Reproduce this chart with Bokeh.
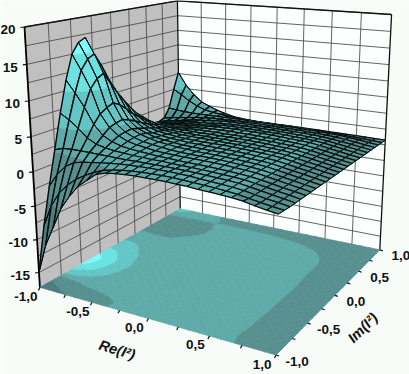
import numpy as np
from bokeh.plotting import figure
from bokeh.models import ColumnDataSource, Range1d
from bokeh.embed import file_html
from bokeh.resources import INLINE
from bokeh.core.properties import value

# ---------- data ----------
re_values = [-1.0,-0.917,-0.833,-0.75,-0.667,-0.583,-0.5,-0.417,-0.333,-0.25,-0.167,-0.083,0.0,
             0.083,0.167,0.25,0.333,0.417,0.5,0.583,0.667,0.75,0.833,0.917,1.0]
im_values = re_values[:]

z_row_00 = [-15,-10.5,-7.5,-4.5,-2.5,-.8,.3,1.4,1.8,2.0,2.1,2.2,2.2,2.2,2.2,2.15,2.1,2.0,1.95,1.85,1.75,1.6,1.3,1.05,.85]
z_row_01 = [-8.5,-5.2,-3,-1.6,-.5,.3,1,1.5,1.8,2,2.15,2.25,2.3,2.3,2.28,2.22,2.15,2.05,1.98,1.85,1.7,1.45,1.2,1,.8]
z_row_02 = [-3,-1,.4,1.2,1.5,1.7,1.9,2.05,2.2,2.3,2.35,2.4,2.4,2.4,2.36,2.3,2.2,2.1,2.0,1.88,1.7,1.45,1.2,1,.75]
z_row_03 = [2.0,2.4,2.5,2.5,2.5,2.45,2.45,2.4,2.4,2.4,2.4,2.4,2.4,2.38,2.35,2.3,2.23,2.14,2.06,1.95,1.73,1.48,1.23,1.0,.75]
z_row_04 = [7,6.2,5.2,4,3.3,3,2.8,2.7,2.6,2.55,2.5,2.5,2.4,2.38,2.35,2.3,2.23,2.14,2.06,1.95,1.73,1.48,1.23,1.0,.75]
z_row_05 = [11.5,9.8,7.9,5.6,4.2,3.5,3.1,2.9,2.75,2.65,2.55,2.5,2.4,2.38,2.35,2.3,2.23,2.14,2.06,1.95,1.73,1.48,1.23,1.0,.75]
z_row_06 = [15,12.8,10.3,6.8,5,4,3.4,3.1,2.9,2.7,2.6,2.55,2.5,2.48,2.45,2.4,2.32,2.22,2.12,2.0,1.75,1.5,1.25,1.0,.75]
z_row_07 = [16.5,14.2,11.5,7.4,5.3,4.2,3.6,3.2,3,2.8,2.65,2.55,2.5,2.48,2.45,2.4,2.32,2.22,2.12,2.0,1.75,1.5,1.25,1.0,.75]
z_row_08 = [17,14.7,12,7.8,5.5,4.3,3.7,3.3,3,2.85,2.7,2.6,2.5,2.48,2.45,2.4,2.32,2.22,2.12,2.0,1.75,1.5,1.25,1.0,.75]
z_row_09 = [14.5,12.8,10.2,7.2,5.1,4.0,3.5,3.1,2.9,2.75,2.6,2.55,2.5,2.48,2.45,2.4,2.32,2.22,2.12,2.0,1.75,1.5,1.25,1.0,.75]
z_row_10 = [11.5,10.6,8.6,6.3,4.6,3.7,3.2,3,2.8,2.7,2.6,2.55,2.5,2.48,2.45,2.4,2.32,2.22,2.12,2.0,1.75,1.5,1.25,1.0,.75]
z_row_11 = [9,8.6,7.1,5.2,4,3.4,3.05,2.85,2.7,2.6,2.55,2.5,2.5,2.48,2.45,2.4,2.32,2.22,2.12,2.0,1.75,1.5,1.25,1.0,.75]
z_row_12 = [7,6.8,5.7,4.4,3.5,3.05,2.85,2.7,2.6,2.55,2.5,2.5,2.45,2.43,2.4,2.35,2.28,2.18,2.09,1.98,1.74,1.49,1.24,1.0,.75]
z_row_13 = [5.2,5.1,4.5,3.6,3.05,2.75,2.6,2.5,2.45,2.45,2.4,2.4,2.4,2.38,2.35,2.3,2.23,2.14,2.06,1.95,1.73,1.48,1.23,1.0,.75]
z_row_14 = [4,3.9,3.6,3.0,2.7,2.5,2.4,2.4,2.35,2.35,2.35,2.35,2.35,2.33,2.3,2.25,2.19,2.1,2.03,1.92,1.71,1.47,1.22,.99,.75]
z_row_15 = [2.9,2.7,2.45,2.2,2.15,2.15,2.2,2.25,2.3,2.3,2.3,2.3,2.3,2.28,2.25,2.2,2.15,2.07,2.0,1.9,1.7,1.46,1.22,.98,.75]
z_row_16 = [1.8,1.7,1.65,1.65,1.7,1.75,1.95,2.1,2.2,2.3,2.3,2.3,2.3,2.28,2.25,2.2,2.15,2.07,2.0,1.9,1.7,1.46,1.22,.98,.75]
z_row_17 = [1.1,1.25,1.4,1.5,1.6,1.7,1.8,2.0,2.15,2.25,2.25,2.3,2.3,2.28,2.25,2.2,2.15,2.07,2.0,1.9,1.7,1.46,1.22,.98,.75]
z_row_18 = [.7,.9,1.2,1.3,1.45,1.6,1.7,1.8,2.0,2.15,2.2,2.2,2.2,2.18,2.15,2.12,2.07,2.0,1.93,1.84,1.67,1.45,1.2,.97,.75]
z_row_19 = [.4,.7,.95,1.15,1.4,1.55,1.65,1.75,1.95,2.05,2.1,2.1,2.1,2.08,2.05,2.02,1.98,1.92,1.85,1.76,1.62,1.42,1.18,.96,.75]
z_row_20 = [.3,.6,.85,1.1,1.35,1.55,1.65,1.8,1.95,2,2,2,2,1.98,1.95,1.92,1.88,1.83,1.77,1.68,1.56,1.38,1.16,.95,.75]
z_row_21 = [.6,.85,1.05,1.25,1.45,1.6,1.7,1.75,1.8,1.85,1.85,1.85,1.85,1.83,1.8,1.78,1.75,1.7,1.65,1.58,1.48,1.33,1.14,.94,.75]
z_row_22 = [2.0,1.85,1.75,1.7,1.7,1.7,1.7,1.72,1.72,1.72,1.7,1.7,1.7,1.68,1.66,1.64,1.62,1.58,1.53,1.47,1.39,1.27,1.1,.92,.75]
z_row_23 = [5.0,4.2,3.3,2.6,2.1,1.85,1.7,1.55,1.4,1.35,1.3,1.3,1.3,1.28,1.27,1.25,1.23,1.2,1.17,1.13,1.08,1.02,.95,.85,.75]
z_row_24 = [7.7,5.6,4.1,3.0,2.4,1.9,1.5,1.2,1.05,.95,.9,.9,.9,.9,.9,.9,.88,.88,.87,.86,.85,.83,.8,.78,.75]
surface_z = [z_row_00,z_row_01,z_row_02,z_row_03,z_row_04,z_row_05,z_row_06,z_row_07,z_row_08,z_row_09,
             z_row_10,z_row_11,z_row_12,z_row_13,z_row_14,z_row_15,z_row_16,z_row_17,z_row_18,z_row_19,
             z_row_20,z_row_21,z_row_22,z_row_23,z_row_24]

z_tick_values = [20,15,10,5,0,-5,-10,-15]
z_tick_labels = ["20","15","10","5","0","-5","-10","-15"]
xy_tick_values = [-1.0,-0.5,0.0,0.5,1.0]
xy_tick_labels = ["-1,0","-0,5","0,0","0,5","1,0"]
z_grid_values = [20,17.5,15,12.5,10,7.5,5,2.5,0,-2.5,-5,-7.5,-10,-12.5,-15]
wall_grid_values = [-1.0,-0.75,-0.5,-0.25,0.0,0.25,0.5,0.75,1.0]
z_floor = -17.3
z_top = 20

band_edges = [-1000,-5,1.7,5,10,15,1000]
band_colors = ["#4e7c7c","#578f8f","#5eaaa9","#63c5c5","#6ce2e2","#7cfcfc"]

BG = "#f7fcf9"; LEFT_WALL = "#c0c0c0"; RIGHT_WALL = "#fbfffd"; MESH = "#040a0a"

# ---------- camera: perspective fitted to the box corners ----------
camera_world = [(-1,-1,z_floor),(1,-1,z_floor),(1,1,z_floor),(-1,1,z_floor),(-1,-1,z_top),(-1,1,z_top),(1,1,z_top)]
camera_image = [(39,286),(276,355),(379,249),(180,209),(24,27),(177,0),(391,14)]
rows = []
for (a,b,c),(u,v) in zip(camera_world,camera_image):
    rows.append([a,b,c,1,0,0,0,0,-u*a,-u*b,-u*c,-u])
    rows.append([0,0,0,0,a,b,c,1,-v*a,-v*b,-v*c,-v])
P = np.linalg.svd(np.array(rows,float))[2][-1].reshape(3,4)

def proj(r,m,z):
    q = P @ np.array([r,m,z,1.0])
    return float(q[0]/q[2]), float(q[1]/q[2])

def clip_half(poly, level, keep_above):
    out = []
    n = len(poly)
    for k in range(n):
        a, b = poly[k], poly[(k+1)%n]
        ina = (a[2]>=level) if keep_above else (a[2]<=level)
        inb = (b[2]>=level) if keep_above else (b[2]<=level)
        if ina: out.append(a)
        if ina != inb:
            s = (level-a[2])/(b[2]-a[2])
            out.append((a[0]+s*(b[0]-a[0]),a[1]+s*(b[1]-a[1]),level))
    return out

def band_pieces(tri):
    for c,lo,hi in zip(band_colors,band_edges[:-1],band_edges[1:]):
        pl = clip_half(tri,lo,True)
        if len(pl)>=3: pl = clip_half(pl,hi,False)
        if len(pl)>=3: yield c,pl

Z = np.array(surface_z,float)
R, M = re_values, im_values

p = figure(width=409,height=374,x_range=Range1d(0,409),y_range=Range1d(374,0),
           output_backend="svg",toolbar_location=None,min_border=0,
           background_fill_color=BG,border_fill_color=BG,outline_line_color=None)
p.axis.visible=False; p.grid.visible=False
p.styles={"position":"absolute","left":"0","top":"0"}

# walls
def wall(c,pts):
    xy=[proj(*q) for q in pts]
    p.patch([a for a,_ in xy],[b for _,b in xy],fill_color=c,line_color=c)
wall(LEFT_WALL,[(-1,-1,z_floor),(-1,1,z_floor),(-1,1,z_top),(-1,-1,z_top)])
wall(RIGHT_WALL,[(-1,1,z_floor),(1,1,z_floor),(1,1,z_top),(-1,1,z_top)])

gx0,gy0,gx1,gy1=[],[],[],[]
def seg(a,b):
    u=proj(*a);v=proj(*b)
    gx0.append(u[0]);gy0.append(u[1]);gx1.append(v[0]);gy1.append(v[1])
for z in z_grid_values:
    seg((-1,-1,z),(-1,1,z)); seg((-1,1,z),(1,1,z))
for t in wall_grid_values[1:-1]:
    seg((-1,t,z_floor),(-1,t,z_top)); seg((t,1,z_floor),(t,1,z_top))
p.segment(gx0,gy0,gx1,gy1,line_color="#484848",line_width=0.85)

# box edges
gx0,gy0,gx1,gy1=[],[],[],[]
seg((-1,-1,z_top),(-1,1,z_top)); seg((-1,1,z_top),(1,1,z_top)); seg((1,1,z_top),(1,1,z_floor)); seg((-1,1,z_top),(-1,1,z_floor))
p.segment(gx0,gy0,gx1,gy1,line_color="#111111",line_width=1.3)
gx0,gy0,gx1,gy1=[],[],[],[]
seg((-1,-1,z_top),(-1,-1,z_floor))
p.segment(gx0,gy0,gx1,gy1,line_color="#000000",line_width=1.8)

# floor: the surface's value bands laid flat
fx,fy,fc=[],[],[]
n=len(R)
for j in range(n-2,-1,-1):
    for i in range(n-1):
        c=[(R[i],M[j],Z[j,i]),(R[i+1],M[j],Z[j,i+1]),(R[i+1],M[j+1],Z[j+1,i+1]),(R[i],M[j+1],Z[j+1,i])]
        for tri in ([c[0],c[1],c[2]],[c[0],c[2],c[3]]):
            for col,pl in band_pieces(tri):
                xy=[proj(a,b,z_floor) for a,b,_ in pl]
                fx.append([q[0] for q in xy]);fy.append([q[1] for q in xy]);fc.append(col)
p.patches(fx,fy,fill_color=fc,line_color=fc,line_width=0.7)

# surface, far cells first
sx,sy,sf,sfa,sl,sla,slw=[],[],[],[],[],[],[]
def add_edge(a,b,w):
    u=proj(*a);v=proj(*b)
    sx.append([u[0],v[0]]);sy.append([u[1],v[1]])
    sf.append(MESH);sfa.append(0.0);sl.append(MESH);sla.append(1.0);slw.append(w)
for j in range(n-2,-1,-1):
    for i in range(n-1):
        c=[(R[i],M[j],Z[j,i]),(R[i+1],M[j],Z[j,i+1]),(R[i+1],M[j+1],Z[j+1,i+1]),(R[i],M[j+1],Z[j+1,i])]
        for tri in ([c[0],c[1],c[2]],[c[0],c[2],c[3]]):
            for col,pl in band_pieces(tri):
                xy=[proj(*q) for q in pl]
                sx.append([q[0] for q in xy]);sy.append([q[1] for q in xy])
                sf.append(col);sfa.append(1.0);sl.append(col);sla.append(1.0);slw.append(0.6)
        wm = 1.25 if i>=6 else 1.0
        wr = 1.4 if i<6 else 0.8
        add_edge(c[0],c[1],wm); add_edge(c[3],c[2],wm)
        add_edge(c[0],c[3],wr); add_edge(c[1],c[2],wr)
p.patches("x","y",source=ColumnDataSource(dict(x=sx,y=sy,f=sf,fa=sfa,l=sl,la=sla,lw=slw)),
          fill_color="f",fill_alpha="fa",line_color="l",line_alpha="la",line_width="lw")

# ticks
tx0,ty0,tx1,ty1=[],[],[],[]
for z in z_tick_values:
    a=proj(-1,-1,z);tx0.append(a[0]);ty0.append(a[1]);tx1.append(a[0]-4);ty1.append(a[1]+0.5)
for t in wall_grid_values:
    a=proj(t,-1,z_floor);tx0.append(a[0]);ty0.append(a[1]);tx1.append(a[0]-1.5);ty1.append(a[1]+3)
    a=proj(1,t,z_floor);tx0.append(a[0]);ty0.append(a[1]);tx1.append(a[0]+3);ty1.append(a[1]+1)
p.segment(tx0,ty0,tx1,ty1,line_color="#111111",line_width=1.2)

# labels
FONT=value("Liberation Sans")
zx=[proj(-1,-1,z)[0]-9 for z in z_tick_values]; zy=[proj(-1,-1,z)[1]+3 for z in z_tick_values]
p.text(zx,zy,text=z_tick_labels,text_font=FONT,text_font_size="13.5px",text_font_style="bold",
       text_align="right",text_baseline="middle",text_color="#111111")
rx=[proj(t,-1,z_floor)[0]-14 for t in xy_tick_values]; ry=[proj(t,-1,z_floor)[1]+9 for t in xy_tick_values]
p.text(rx,ry,text=xy_tick_labels,text_font=FONT,text_font_size="13.5px",text_font_style="bold",
       text_align="center",text_baseline="middle",text_color="#111111")
ix=[proj(1,t,z_floor)[0]+21 for t in xy_tick_values]; iy=[proj(1,t,z_floor)[1]+6 for t in xy_tick_values]
p.text(ix,iy,text=xy_tick_labels,text_font=FONT,text_font_size="13.5px",text_font_style="bold",
       text_align="center",text_baseline="middle",text_color="#111111")
a=proj(-0.2,-1,z_floor)
p.text([a[0]-8],[a[1]+38],text=["Re(I\u00b2)"],angle=[np.radians(-17)],text_font=FONT,text_font_size="14.5px",
       text_font_style="bold italic",text_align="center",text_baseline="middle",text_color="#111111")
a=proj(1,-0.25,z_floor)
p.text([a[0]+41],[a[1]+19],text=["Im(I\u00b2)"],angle=[np.radians(45)],text_font=FONT,text_font_size="14.5px",
       text_font_style="bold italic",text_align="center",text_baseline="middle",text_color="#111111")

open("out.html","w").write(file_html(p,INLINE))
